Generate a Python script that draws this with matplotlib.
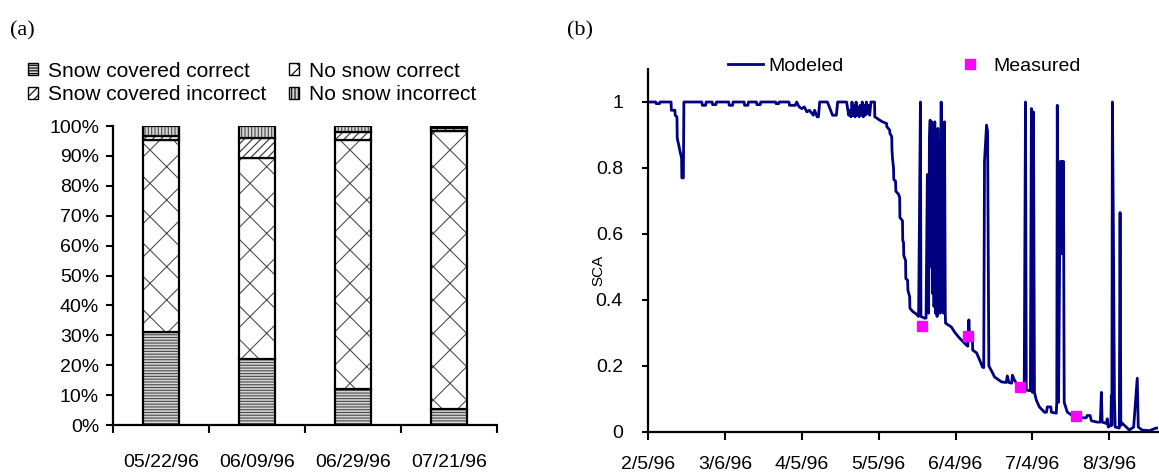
import matplotlib
matplotlib.use('Agg')
import matplotlib.pyplot as plt
from matplotlib.patches import Patch
from matplotlib.ticker import PercentFormatter, FuncFormatter
import numpy as np
import pandas as pd

plt.rcParams['font.family'] = ['Liberation Sans', 'DejaVu Sans']
plt.rcParams['hatch.linewidth'] = 0.8

# ---- panel (a): classification accuracy per image date (%)
image_dates = ["05/22/96", "06/09/96", "06/29/96", "07/21/96"]
snow_correct = [31.2, 22.0, 11.9, 5.2]
nosnow_correct = [64.1, 67.2, 83.4, 93.2]
snow_incorrect = [1.4, 6.7, 2.6, 0.8]
nosnow_incorrect = [3.3, 4.1, 2.1, 0.8]

# ---- panel (b): modeled snow covered area, (days after 2/5/96, SCA)
modeled = [
    (0, 1.0), (3.0, 1.0), (3.2, 0.995), (4.5, 0.995), (4.7, 1.0), (9.0, 1.0),
    (9.1, 0.975), (10.5, 0.975), (10.6, 0.96), (11.3, 0.955), (11.4, 0.89),
    (12.0, 0.87), (12.5, 0.85), (12.8, 0.84), (13.1, 0.83), (13.2, 0.77),
    (13.8, 0.77), (14.0, 1.0), (21.0, 1.0), (21.2, 0.99), (22.5, 0.99),
    (22.7, 1.0), (25.0, 1.0), (25.2, 0.992), (26.5, 0.992), (26.7, 1.0),
    (31.5, 1.0), (31.7, 0.99), (33.0, 0.99), (33.2, 1.0), (37.5, 1.0),
    (37.7, 0.99), (39.0, 0.99), (39.2, 1.0), (42.3, 1.0), (42.5, 0.992),
    (43.8, 0.992), (44.0, 1.0), (49.8, 1.0), (50.0, 0.995), (51.0, 0.995),
    (51.2, 1.0), (55.0, 1.0), (55.2, 0.99), (57.5, 0.99), (58.0, 1.0),
    (59.0, 0.985), (60.0, 0.98), (61.0, 0.985), (62.0, 0.97), (63.0, 0.975),
    (64.5, 0.96), (65.0, 0.975), (66.0, 0.955), (66.5, 0.955), (67.0, 1.0),
    (70.0, 1.0), (70.5, 0.99), (71.5, 0.97), (72.0, 0.96), (73.5, 0.96),
    (74.0, 1.0), (77.5, 1.0), (77.8, 0.985), (78.3, 0.96), (78.8, 0.975),
    (79.2, 0.955), (79.6, 1.0), (80.0, 0.96), (80.4, 0.99), (80.8, 0.955),
    (81.2, 1.0), (81.6, 0.96), (82.0, 0.985), (82.4, 0.955), (82.8, 0.99),
    (83.2, 0.96), (83.6, 1.0), (84.0, 0.955), (84.4, 0.99), (84.8, 0.96),
    (85.2, 1.0), (85.6, 0.965), (86.0, 0.99), (86.5, 0.96), (87.0, 1.0),
    (88.4, 1.0), (88.5, 0.955), (89.5, 0.95), (90.4, 0.945), (91.5, 0.94),
    (93.1, 0.935), (93.2, 0.925), (94.3, 0.915), (94.4, 0.905), (95.1, 0.895),
    (95.2, 0.855), (95.4, 0.83), (95.8, 0.8), (95.9, 0.765), (96.6, 0.76),
    (96.7, 0.73), (97.8, 0.72), (98.2, 0.71), (98.3, 0.65), (99.3, 0.64),
    (99.4, 0.58), (99.7, 0.575), (99.8, 0.535), (100.5, 0.52), (100.6, 0.465),
    (101.3, 0.46), (101.4, 0.43), (102.1, 0.41), (102.2, 0.375), (103.3, 0.365),
    (104.8, 0.357), (105.5, 0.35), (105.6, 0.36), (106.3, 1.0), (106.5, 0.35),
    (107.9, 0.345), (108.5, 0.345), (109.0, 0.78), (109.3, 0.55), (109.5, 0.36),
    (109.8, 0.88), (110.1, 0.945), (110.4, 0.5), (110.7, 0.94), (111.0, 0.42),
    (111.3, 0.93), (111.6, 0.38), (111.9, 0.94), (112.2, 0.36), (112.5, 0.9),
    (112.8, 0.35), (113.1, 0.92), (113.4, 0.37), (113.7, 0.88), (114.0, 0.36),
    (114.4, 1.0), (114.7, 0.37), (115.0, 0.9), (115.3, 0.36), (115.7, 0.94),
    (116.0, 0.36), (116.1, 0.33), (118.4, 0.318), (119.6, 0.303), (121.5, 0.285),
    (124.3, 0.263), (124.8, 0.26), (125.2, 0.34), (125.5, 0.285), (126.6, 0.28),
    (126.7, 0.248), (128.2, 0.24), (129.3, 0.22), (130.5, 0.197), (131.0, 0.195),
    (131.3, 0.82), (132.1, 0.93), (132.5, 0.91), (133.0, 0.2), (134.4, 0.18),
    (135.2, 0.167), (137.9, 0.152), (139.8, 0.15), (140.2, 0.17), (140.8, 0.15),
    (141.9, 0.148), (142.2, 0.172), (142.8, 0.16), (143.7, 0.148), (146.1, 0.143),
    (146.8, 0.13), (147.3, 1.0), (147.6, 0.127), (149.2, 0.125), (149.6, 0.98),
    (150.0, 0.12), (150.4, 0.97), (150.8, 0.12), (151.5, 0.097), (152.7, 0.076),
    (154.7, 0.06), (155.5, 0.06), (155.8, 0.076), (157.2, 0.076), (157.4, 0.06),
    (159.3, 0.057), (159.5, 0.09), (159.7, 0.99), (160.2, 0.09), (160.9, 0.82),
    (161.2, 0.54), (161.5, 0.82), (161.8, 0.54), (162.1, 0.82), (162.4, 0.09),
    (163.6, 0.06), (165.6, 0.05), (168.3, 0.043), (171.0, 0.043), (171.4, 0.05),
    (172.5, 0.05), (173.0, 0.034), (175.3, 0.03), (176.5, 0.03), (176.9, 0.12),
    (177.2, 0.03), (178.8, 0.026), (179.2, 0.04), (179.6, 0.015), (180.6, 0.02),
    (180.8, 0.11), (181.0, 0.02), (181.2, 1.0), (181.6, 0.6), (182.0, 0.1),
    (182.3, 0.015), (183.9, 0.012), (184.2, 0.665), (184.5, 0.02), (185.0, 0.027),
    (187.8, 0.006), (189.5, 0.015), (190.9, 0.163), (191.3, 0.015), (192.8, 0.006),
    (195.6, 0.004), (198.3, 0.012), (199.0, 0.012),
]
measured_dates = ["1996-05-22", "1996-06-09", "1996-06-29", "1996-07-21"]
measured_sca = [0.32, 0.29, 0.135, 0.05]
date_ticks = ["2/5/96", "3/6/96", "4/5/96", "5/5/96", "6/4/96", "7/4/96", "8/3/96"]

W, H = 1159, 474
fig = plt.figure(figsize=(W / 100, H / 100), dpi=100)

# ================= (a) stacked bars =================
ax = fig.add_axes([113 / W, 1 - 425 / H, 384 / W, 299 / H])
x = np.arange(len(image_dates))
width = 0.375
styles = [
    (snow_correct, "Snow covered correct", "------", "#d4d4d4", "#4a4a4a"),
    (nosnow_correct, "No snow correct", "x", "white", "#505050"),
    (snow_incorrect, "Snow covered incorrect", "////", "white", "#303030"),
    (nosnow_incorrect, "No snow incorrect", "|||||", "#d4d4d4", "#4a4a4a"),
]
bottom = np.zeros(len(x))
handles = {}
for vals, name, hatch, fc, hc in styles:
    ax.bar(x, vals, width, bottom=bottom, color=fc, edgecolor=hc, hatch=hatch, linewidth=0)
    ax.bar(x, vals, width, bottom=bottom, fill=False, edgecolor="black", linewidth=1.6)
    handles[name] = Patch(facecolor=fc, edgecolor="black", hatch=hatch, linewidth=1, label=name)
    bottom += np.array(vals)

ax.set_xlim(-0.5, 3.5)
ax.set_ylim(0, 100)
ax.set_yticks(np.arange(0, 101, 10))
ax.yaxis.set_major_formatter(PercentFormatter(100, decimals=0))
ax.set_xticks(x)
ax.set_xticklabels(image_dates)
ax.set_xticks(np.arange(-0.5, 4, 1), minor=True)
ax.tick_params(axis="x", which="major", length=0, pad=21, labelsize=14)
ax.tick_params(axis="x", which="minor", length=6, width=1.5)
ax.tick_params(axis="y", length=5, width=1.5, pad=5, labelsize=14)
for s in ["top", "right"]:
    ax.spines[s].set_visible(False)
for s in ["left", "bottom"]:
    ax.spines[s].set_linewidth(1.6)

order = ["Snow covered correct", "Snow covered incorrect", "No snow correct", "No snow incorrect"]
ax.legend(handles=[handles[k] for k in order], loc="center left",
          bbox_to_anchor=(28 / W, 1 - 83 / H), bbox_transform=fig.transFigure,
          ncol=2, frameon=False, fontsize=15, handlelength=0.5, handleheight=0.5,
          handletextpad=0.45, columnspacing=1.1, labelspacing=0.22, borderpad=0,
          borderaxespad=0)

# ================= (b) SCA time series =================
start = pd.Timestamp("1996-02-05")
days, sca = zip(*modeled)
t = start + pd.to_timedelta(np.array(days), unit="D")

bx = fig.add_axes([648 / W, 1 - 432 / H, 510 / W, 363 / H])
bx.plot(t, sca, color="#000080", linewidth=2, label="Modeled")
bx.plot(pd.to_datetime(measured_dates), measured_sca, linestyle="none", marker="s",
        markersize=7, color="#ff00ff", label="Measured")
bx.set_ylim(0, 1.1)
bx.set_yticks(np.arange(0, 1.01, 0.2))
bx.yaxis.set_major_formatter(FuncFormatter(lambda v, p: f"{v:g}"))
bx.set_xlim(start, start + pd.Timedelta(days=199))
bx.set_xticks(pd.to_datetime(date_ticks, format="%m/%d/%y"))
bx.set_xticklabels(date_ticks)
bx.tick_params(axis="x", length=6, width=1.5, pad=11, labelsize=14)
bx.tick_params(axis="y", length=4, width=1.5, pad=14, labelsize=14)
for s in ["top", "right"]:
    bx.spines[s].set_visible(False)
for s in ["left", "bottom"]:
    bx.spines[s].set_linewidth(1.6)

bx.legend(loc="center left", bbox_to_anchor=(728 / W, 1 - 66 / H),
          bbox_transform=fig.transFigure, ncol=2, frameon=False, fontsize=14,
          handlelength=1.8, handletextpad=0.3, columnspacing=5.6, borderpad=0,
          borderaxespad=0)

fig.text(598 / W, 1 - 270 / H, "SCA", rotation=90, fontsize=11, ha="center", va="center")
fig.text(10 / W, 1 - 31 / H, "(a)", family="Liberation Serif", fontsize=16, va="center")
fig.text(567 / W, 1 - 31 / H, "(b)", family="Liberation Serif", fontsize=16, va="center")

fig.savefig("out.png", dpi=100)
plt.close(fig)
